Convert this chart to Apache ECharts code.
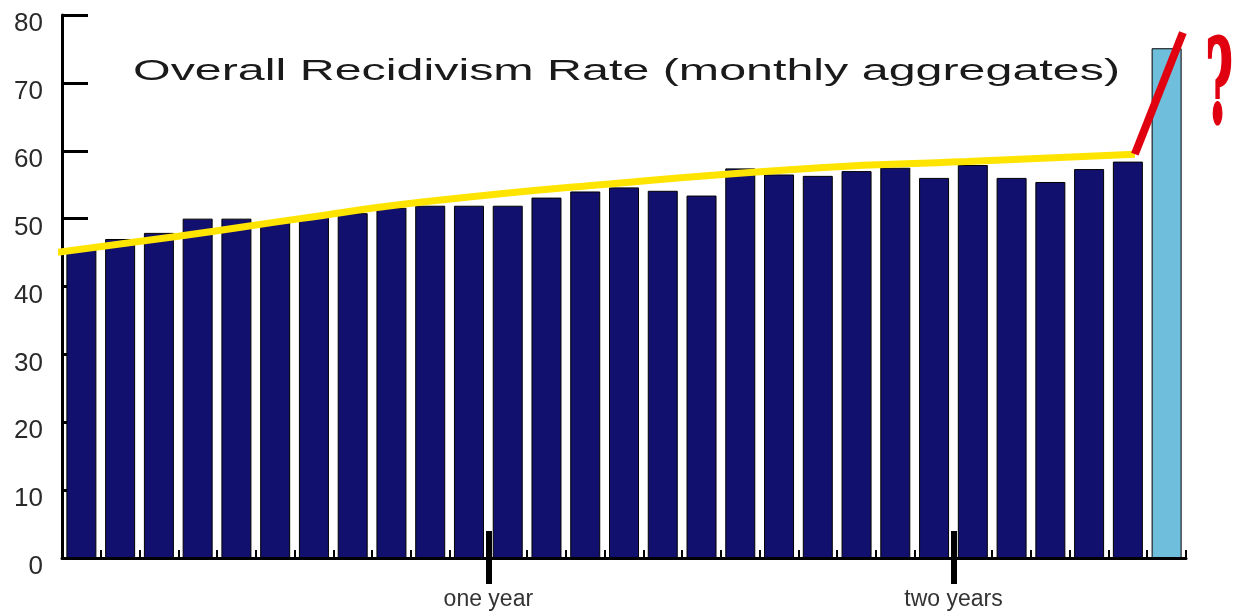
<!DOCTYPE html>
<html><head><meta charset="utf-8">
<script src="https://cdn.jsdelivr.net/npm/echarts@6/dist/echarts.min.js"></script>
<style>html,body{margin:0;padding:0;background:#fff}#c{width:1233px;height:611px}</style>
</head><body><div id="c"></div>
<script>
// ---- data ----
const months = ['1','2','3','4','5','6','7','8','9','10','11','12','13','14','15','16','17','18','19','20','21','22','23','24','25','26','27','28','29'];
const recidivism = [45.5, 47.0, 47.9, 50.0, 50.0, 49.4, 50.3, 50.8, 51.6, 51.9, 51.9, 51.9, 53.1, 54.0, 54.6, 54.1, 53.4, 57.4, 56.5, 56.3, 57.0, 57.5, 56.0, 57.9, 56.0, 55.4, 57.3, 58.4];
const projected = 75.1;            // last (light blue) bar
const trendX = [-0.18, 3.0, 6.14, 9.24, 13.88, 19.56, 23.35, 27.68];
const trendY = [45.0, 47.4, 50.0, 52.4, 55.0, 57.5, 58.4, 59.5];
const jumpX = [27.68, 28.92];
const jumpY = [59.5, 77.4];
const yTickStep = 10, yMax = 80;
const milestoneValues = [11, 23];
const milestoneLabels = ['one year', 'two years'];
const titleText = 'Overall Recidivism Rate (monthly aggregates)';

// ---- helpers ----
const n = months.length;
const darkData = months.map((m, i) => i < recidivism.length ? recidivism[i] : '-');
const lightData = months.map((m, i) => i === n - 1 ? projected : '-');
const trendData = trendX.map((x, i) => [x, trendY[i]]);
const jumpData = jumpX.map((x, i) => [x, jumpY[i]]);

const cv = document.createElement('canvas').getContext('2d');
cv.font = '29px "Liberation Sans"';
const titleW = cv.measureText(titleText).width;
const titleScale = 987 / titleW;

const chart = echarts.init(document.getElementById('c'), null, {renderer: 'canvas'});
const valAxisBase = {type: 'value', min: 0, max: n, position: 'bottom', gridIndex: 0,
  axisLine: {show: false}, splitLine: {show: false}};
chart.setOption({
  animation: false,
  backgroundColor: '#fff',
  grid: {left: 62, right: 47, top: 15, bottom: 52},
  xAxis: [
    {type: 'category', data: months, boundaryGap: true, position: 'bottom',
      axisLine: {lineStyle: {color: '#000', width: 3}},
      axisTick: {show: true, inside: true, length: 8, interval: 0, lineStyle: {color: '#000', width: 2}},
      axisLabel: {show: false}, splitLine: {show: false}},
    Object.assign({}, valAxisBase, {
      axisTick: {show: true, inside: true, length: 27, customValues: milestoneValues, lineStyle: {color: '#000', width: 6}},
      axisLabel: {show: false}}),
    Object.assign({}, valAxisBase, {
      axisTick: {show: true, inside: false, length: 26, customValues: milestoneValues, lineStyle: {color: '#000', width: 6}},
      axisLabel: {show: true, customValues: milestoneValues, margin: 30, fontSize: 23,
        fontFamily: 'Liberation Sans', color: '#333',
        formatter: v => milestoneLabels[milestoneValues.indexOf(v)] || ''}})
  ],
  yAxis: {type: 'value', min: 0, max: yMax, interval: yTickStep,
    axisLine: {show: true, lineStyle: {color: '#000', width: 3}},
    axisTick: {show: true, inside: true, length: 26, lineStyle: {color: '#000', width: 3}},
    axisLabel: {fontSize: 26, fontFamily: 'Liberation Sans', color: '#2a2a2a', margin: 19,
      verticalAlign: 'top', lineHeight: 18},
    splitLine: {show: false}},
  graphic: [
    {type: 'text', x: 133, y: 72, scaleX: titleScale, z: 10,
      style: {text: titleText, font: '29px "Liberation Sans"', fill: '#1a1a1a', align: 'left', verticalAlign: 'middle'}},
    {type: 'text', x: 1219, y: 92, scaleX: 0.4, z: 10,
      style: {text: '?', font: 'bold 116px "DejaVu Serif"', fill: '#e0000f', align: 'center', verticalAlign: 'middle',
        stroke: '#e0000f', lineWidth: 3}}
  ],
  series: [
    {type: 'bar', xAxisIndex: 0, data: darkData, barWidth: 30, barGap: '-100%',
      itemStyle: {color: '#12106f', borderColor: '#000', borderWidth: 1}},
    {type: 'bar', xAxisIndex: 0, data: lightData, barWidth: 30, barGap: '-100%',
      itemStyle: {color: '#6fbedb', borderColor: '#000', borderWidth: 1}},
    {type: 'line', xAxisIndex: 1, data: trendData, smooth: true, symbol: 'none', clip: false, z: 5,
      lineStyle: {color: '#ffe400', width: 7}},
    {type: 'line', xAxisIndex: 1, data: jumpData, symbol: 'none', clip: false, z: 6,
      lineStyle: {color: '#e00010', width: 8}}
  ]
});
</script></body></html>
